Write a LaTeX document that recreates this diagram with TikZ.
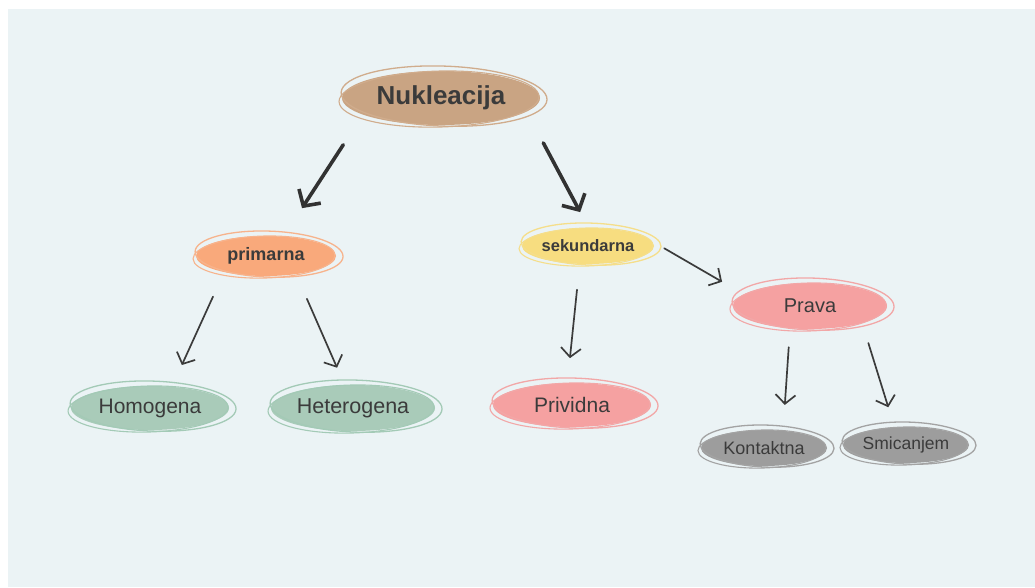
\documentclass[tikz,border=0pt]{standalone}
\usepackage{fontspec}
\setmainfont{Liberation Sans}
\usepackage{xcolor}
\usepackage{tikz}
\usetikzlibrary{shapes.geometric,arrows.meta}

\definecolor{bg}{HTML}{EBF3F5}
\definecolor{ink}{HTML}{3B3B3B}
\definecolor{nukfill}{HTML}{C9A483}
\definecolor{nukline}{HTML}{D0AC8C}
\definecolor{peach}{HTML}{F9A97B}
\definecolor{peachline}{HTML}{F7B38C}
\definecolor{sun}{HTML}{F7DD80}
\definecolor{sunline}{HTML}{F5DE8A}
\definecolor{rose}{HTML}{F5A1A1}
\definecolor{roseline}{HTML}{F2A7A7}
\definecolor{sage}{HTML}{A9CBB9}
\definecolor{sageline}{HTML}{A3CAB6}
\definecolor{stone}{HTML}{9D9D9D}
\definecolor{stoneline}{HTML}{A3A3A3}

\begin{document}
\begin{tikzpicture}[x=1pt, y=-1pt,
  every node/.style={ellipse, inner sep=0pt, outer sep=0pt, text=ink},
  bigarrow/.style={draw=ink!85!black, line width=3.6pt, line cap=round, -{Straight Barb[length=12pt,width=26pt]}},
  smallarrow/.style={draw=ink, line width=1.7pt, line cap=round, -{Straight Barb[length=9pt,width=20pt]}}]
\useasboundingbox (0,0) rectangle (1035,587);
\fill[white] (0,0) rectangle (1035,587);
\fill[bg] (8,9) rectangle (1035,587);

\node[fill=nukfill, minimum width=198pt, minimum height=54pt, font=\bfseries\fontsize{26}{30}\selectfont] (nuk) at (441,98) {Nukleacija};
\node[fill=peach, minimum width=140pt, minimum height=40pt, font=\bfseries\fontsize{18}{22}\selectfont] (prim) at (266,256) {primarna};
\node[fill=sun, minimum width=132pt, minimum height=36pt, font=\bfseries\fontsize{16.5}{20}\selectfont] (sek) at (588,246) {sekundarna};
\node[fill=rose, minimum width=154pt, minimum height=46pt, font=\fontsize{20}{24}\selectfont] (prava) at (810,306) {Prava};
\node[fill=sage, minimum width=158pt, minimum height=44pt, font=\fontsize{21}{25}\selectfont] (homo) at (150,408) {Homogena};
\node[fill=sage, minimum width=164pt, minimum height=46pt, font=\fontsize{21.5}{25}\selectfont] (hetero) at (353,408) {Heterogena};
\node[fill=rose, minimum width=158pt, minimum height=44pt, font=\fontsize{21}{25}\selectfont] (priv) at (572,405) {Prividna};
\node[fill=stone, minimum width=126pt, minimum height=36pt, font=\fontsize{18}{22}\selectfont] (kont) at (764,448) {Kontaktna};
\node[fill=stone, minimum width=126pt, minimum height=36pt, font=\fontsize{17.5}{21}\selectfont] (smic) at (906,445) {Smicanjem};

% sketchy outlines
\foreach \n/\rx/\ry/\c in {nuk/99/27/nukline, prim/70/20/peachline, sek/66/18/sunline,
    prava/77/23/roseline, homo/79/22/sageline, hetero/82/23/sageline,
    priv/79/22/roseline, kont/63/18/stoneline, smic/63/18/stoneline}{
  \draw[\c, line width=1.3pt, rotate around={-2:(\n.center)}] ([shift={(3,-2)}]\n.center) ellipse [x radius=\rx+4, y radius=\ry+3];
  \draw[\c, line width=1.1pt, rotate around={1.5:(\n.center)}] ([shift={(-2,1)}]\n.center) ellipse [x radius=\rx+1, y radius=\ry+1];
}

\draw[bigarrow, shorten <=36pt, shorten >=34pt] (nuk.192) -- (prim.48);
\draw[bigarrow, shorten <=35.5pt, shorten >=18pt] (nuk.351) -- (sek.88);
\draw[smallarrow, shorten <=27pt, shorten >=24pt] (prim.201) -- (homo.44);
\draw[smallarrow, shorten <=27pt, shorten >=19pt] (prim.329) -- (hetero.110);
\draw[smallarrow, shorten <=26pt, shorten >=25pt] (sek.245) -- (priv.102);
\draw[smallarrow, shorten <=24pt, shorten >=25pt] (sek.10) -- (prava.170);
\draw[smallarrow, shorten <=19pt, shorten >=26pt] (prava.228) -- (kont.42);
\draw[smallarrow, shorten <=21pt, shorten >=21pt] (prava.342) -- (smic.123);
\end{tikzpicture}
\end{document}
